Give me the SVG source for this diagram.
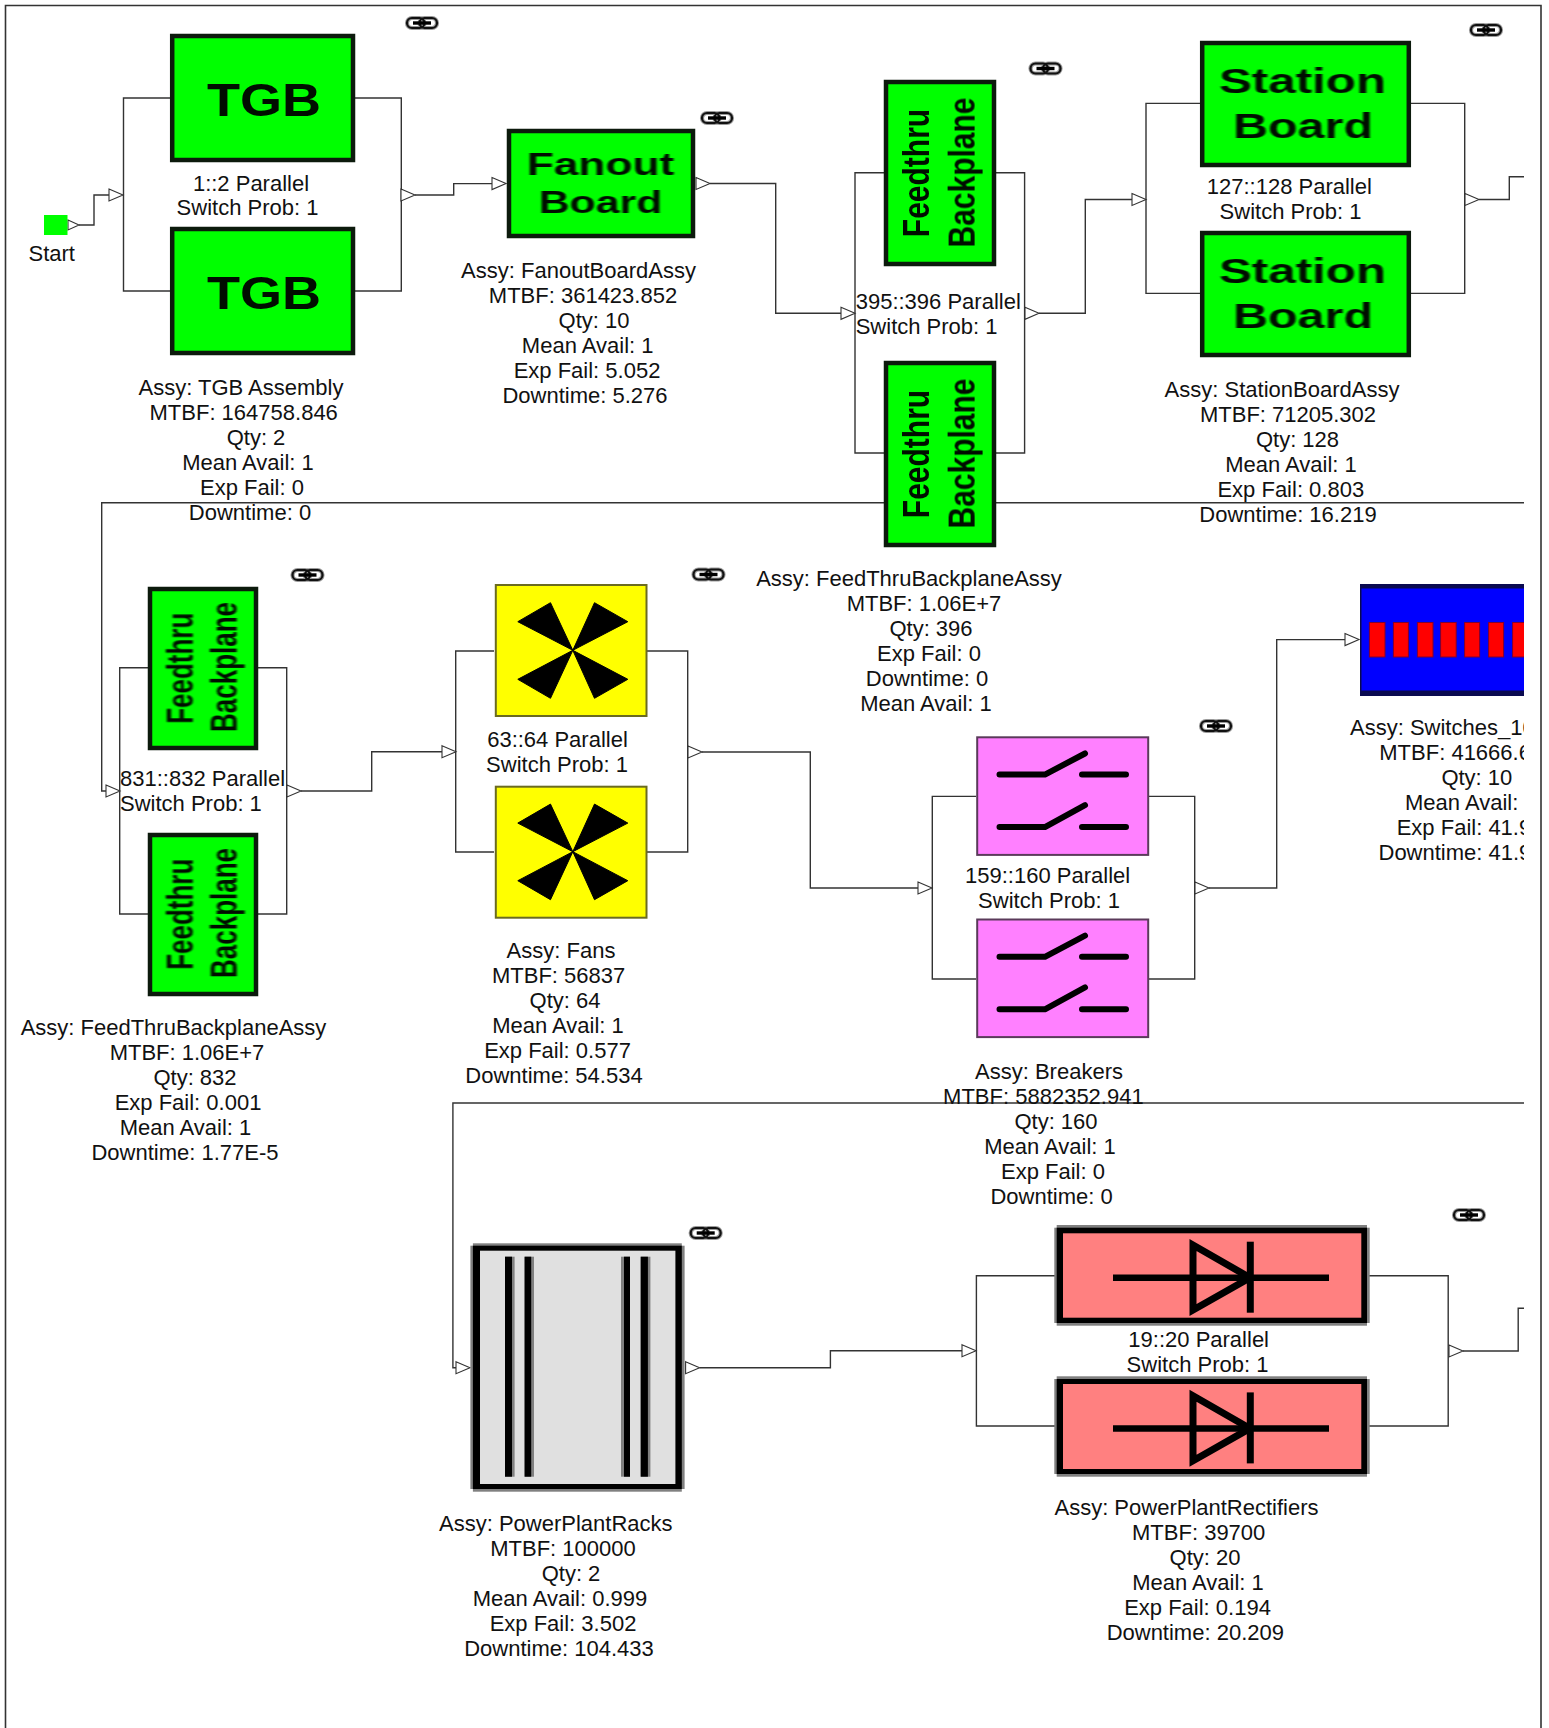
<svg xmlns="http://www.w3.org/2000/svg" width="1549" height="1728" viewBox="0 0 1549 1728">
<style>
text{font-family:"Liberation Sans",Arial,sans-serif;font-size:22px;fill:#111}
.l{text-anchor:middle}
.icon{font-weight:bold;text-anchor:middle;fill:#061006}
.wire{fill:none;stroke:#333;stroke-width:1.4;marker-end:url(#in)}
.wire2{fill:none;stroke:#333;stroke-width:1.4}
.out{marker-start:url(#outm)}
.green{fill:#00ff00;stroke:#0c1a0c;stroke-width:4.5}
.soft{filter:url(#soft)}
.fan{fill:#ffff00;stroke:#6b6b20;stroke-width:2}
.brk{fill:#ff80ff;stroke:#5a3a5a;stroke-width:2}
.sw{fill:none;stroke:#000;stroke-width:6;stroke-linecap:round;stroke-linejoin:round}
.grey{fill:#808080}
.blk{fill:#000}
.dio{fill:none;stroke:#000;stroke-width:7}
</style>
<defs>
<filter id="soft" x="-5%" y="-5%" width="110%" height="110%"><feGaussianBlur stdDeviation="0.6"/></filter>
<marker id="in" markerUnits="userSpaceOnUse" markerWidth="18" markerHeight="16" refX="1" refY="8" orient="auto"><path d="M1 2L15 8L1 14Z" fill="#fff" stroke="#333" stroke-width="1.1"/></marker>
<marker id="outm" markerUnits="userSpaceOnUse" markerWidth="18" markerHeight="16" refX="15" refY="8" orient="auto"><path d="M1 2L15 8L1 14Z" fill="#fff" stroke="#333" stroke-width="1.1"/></marker>
<marker id="outs" markerUnits="userSpaceOnUse" markerWidth="14" markerHeight="14" refX="12" refY="7" orient="auto"><path d="M1 2L12 7L1 12Z" fill="#fff" stroke="#333" stroke-width="1.1"/></marker>
<clipPath id="page"><rect x="0" y="0" width="1524" height="1728"/></clipPath>
<g id="link">
<rect x="-15" y="-5" width="17.5" height="10" rx="5" fill="none" stroke="#9a9a9a" stroke-width="4.2"/>
<rect x="-2.5" y="-5" width="17.5" height="10" rx="5" fill="none" stroke="#9a9a9a" stroke-width="4.2"/>
<rect x="-15" y="-5" width="17.5" height="10" rx="5" fill="none" stroke="#111" stroke-width="2.2"/>
<rect x="-2.5" y="-5" width="17.5" height="10" rx="5" fill="none" stroke="#111" stroke-width="2.2"/>
<path d="M-9 0H9" stroke="#000" stroke-width="3.4"/>
</g>
<g id="fanimg">
<path d="M0 0L-55 -28.6L-22.3 -47.6ZM0 0L21.7 -47.6L55 -28.6ZM0 0L55 29L21.7 48ZM0 0L-22.3 48L-55 29Z" fill="#000" stroke="#000" stroke-width="1" stroke-linejoin="round"/>
</g>
<g id="swimg">
<path class="sw" d="M999.5 774.6H1044.9L1085 753.5M1082 774.6H1126M999.5 827.1H1044.9L1085 805.2M1082 827.1H1126"/>
</g>
<g id="dioimg">
<path d="M1113 1277.7H1329" stroke="#000" stroke-width="6.5" fill="none"/>
<path class="dio" d="M1193 1245L1250 1277.7L1193 1310Z"/>
<path d="M1250.3 1241.7V1312.7" stroke="#000" stroke-width="7" fill="none"/>
</g>
</defs>
<rect width="1549" height="1728" fill="#fff"/>

<g id="frame"><path d="M5.5 1728V5.5H1541V1728" fill="none" stroke="#333" stroke-width="1.6"/></g>

<g id="connectors">
<path class="wire" style="marker-start:url(#outs)" d="M79 225H94V195H109"/>
<path class="wire2" d="M170 98H123.5V291H170M355 98H401.3V291H355"/>
<path class="wire out" d="M415 195H453.7V183.6H492"/>
<path class="wire out" d="M710 183.5H775.7V313.3H841"/>
<path class="wire2" d="M884 172.7H855V453H884M996 172.7H1024.6V453H996"/>
<path class="wire out" d="M1039 313.3H1085.3V199.5H1132"/>
<path class="wire2" d="M1200 103.4H1146V293.4H1200M1411 103.4H1464.7V293.4H1411"/>
<path class="wire2 out" d="M1479 199.5H1509.3V176.8H1524"/>
<path class="wire" d="M1524 502.7H101.7V791H106"/>
<path class="wire2" d="M148 667.7H119.7V914H148M258 667.7H286.7V914H258"/>
<path class="wire out" d="M301 791H371.7V751.7H442"/>
<path class="wire2" d="M494 651H455.7V852H494M647 651H687.7V852H647"/>
<path class="wire out" d="M702 752H810.3V888H918"/>
<path class="wire2" d="M976 796.4H932.3V979H976M1149 796.4H1194.7V979H1149"/>
<path class="wire out" d="M1209 888H1276.7V639.6H1345"/>
<path class="wire" d="M1524 1103H452.9V1367.7H456"/>
<path class="wire out" d="M699.6 1367.7H830.4V1350.7H962"/>
<path class="wire2" d="M1055 1275.7H976.4V1426H1055M1368 1275.7H1448.2V1426H1368"/>
<path class="wire2 out" d="M1463 1351H1518.2V1308.3H1524"/>
</g>

<g id="start"><rect x="44" y="215" width="23.5" height="20" fill="#00ff00"/><text x="28.5" y="261">Start</text></g>

<g id="tgb-1"><rect class="green" x="172.2" y="36" width="180.8" height="124"/><text class="icon soft" style="font-size:47px" transform="translate(264 116) scale(1.15 1)">TGB</text></g>
<g id="tgb-2"><rect class="green" x="172.2" y="229" width="180.8" height="124"/><text class="icon soft" style="font-size:47px" transform="translate(264 309.3) scale(1.15 1)">TGB</text></g>
<g id="tgb-labels">
<text class="l" x="251" y="190.5">1::2 Parallel</text><text class="l" x="247.5" y="215">Switch Prob: 1</text>
<text class="l" x="241" y="395">Assy: TGB Assembly</text><text class="l" x="243.7" y="420">MTBF: 164758.846</text><text class="l" x="256" y="445">Qty: 2</text><text class="l" x="248" y="470">Mean Avail: 1</text><text class="l" x="252" y="495">Exp Fail: 0</text><text class="l" x="250" y="520">Downtime: 0</text>
<use href="#link" x="422" y="23"/>
</g>

<g id="fanout"><rect class="green" x="509" y="131" width="184" height="105"/>
<text class="icon soft" style="font-size:31px" transform="translate(600.5 174.5) scale(1.43 1)">Fanout</text><text class="icon soft" style="font-size:31px" transform="translate(600.5 213) scale(1.38 1)">Board</text>
<text class="l" x="578.5" y="277.5">Assy: FanoutBoardAssy</text><text class="l" x="583" y="302.5">MTBF: 361423.852</text><text class="l" x="594" y="327.5">Qty: 10</text><text class="l" x="587.7" y="352.5">Mean Avail: 1</text><text class="l" x="587" y="377.5">Exp Fail: 5.052</text><text class="l" x="585" y="402.5">Downtime: 5.276</text>
<use href="#link" x="717" y="118"/>
</g>

<g id="fb-a1"><rect class="green" x="886" y="82" width="108" height="182"/>
<text class="icon soft" style="font-size:30px" transform="translate(929 173) rotate(-90) scale(1 1.22)">Feedthru</text><text class="icon soft" style="font-size:30px" transform="translate(974.6 172.5) rotate(-90) scale(1 1.22)">Backplane</text></g>
<g id="fb-a2"><rect class="green" x="886" y="363" width="108" height="182"/>
<text class="icon soft" style="font-size:30px" transform="translate(929 454) rotate(-90) scale(1 1.22)">Feedthru</text><text class="icon soft" style="font-size:30px" transform="translate(974.6 453.5) rotate(-90) scale(1 1.22)">Backplane</text></g>
<g id="fb-a-labels">
<text x="855.7" y="309">395::396 Parallel</text><text x="855.7" y="334">Switch Prob: 1</text>
<text class="l" x="909" y="586">Assy: FeedThruBackplaneAssy</text><text class="l" x="924" y="611">MTBF: 1.06E+7</text><text class="l" x="931" y="636">Qty: 396</text><text class="l" x="929" y="661">Exp Fail: 0</text><text class="l" x="927" y="686">Downtime: 0</text><text class="l" x="926" y="711">Mean Avail: 1</text>
<use href="#link" x="1045.5" y="68.5"/>
</g>

<g id="sb-1"><rect class="green" x="1202.2" y="43" width="206.6" height="122"/>
<text class="icon soft" style="font-size:35px" transform="translate(1302.5 93) scale(1.41 1)">Station</text><text class="icon soft" style="font-size:35px" transform="translate(1303 138) scale(1.385 1)">Board</text></g>
<g id="sb-2"><rect class="green" x="1202.2" y="233" width="206.6" height="122"/>
<text class="icon soft" style="font-size:35px" transform="translate(1302.5 282.5) scale(1.41 1)">Station</text><text class="icon soft" style="font-size:35px" transform="translate(1303 328) scale(1.385 1)">Board</text></g>
<g id="sb-labels">
<text class="l" x="1289.3" y="194">127::128 Parallel</text><text class="l" x="1290.5" y="219">Switch Prob: 1</text>
<text class="l" x="1282" y="397">Assy: StationBoardAssy</text><text class="l" x="1288" y="422">MTBF: 71205.302</text><text class="l" x="1297.5" y="447">Qty: 128</text><text class="l" x="1291" y="472">Mean Avail: 1</text><text class="l" x="1290.8" y="497">Exp Fail: 0.803</text><text class="l" x="1288" y="522">Downtime: 16.219</text>
<use href="#link" x="1486" y="30"/>
</g>

<g id="fb-b1"><rect class="green" x="150" y="589" width="106" height="159"/>
<text class="icon soft" style="font-size:26px" transform="translate(192.8 668.3) rotate(-90) scale(1 1.4)">Feedthru</text><text class="icon soft" style="font-size:26px" transform="translate(236.7 667) rotate(-90) scale(1 1.4)">Backplane</text></g>
<g id="fb-b2"><rect class="green" x="150" y="835" width="106" height="159"/>
<text class="icon soft" style="font-size:26px" transform="translate(192.8 914.3) rotate(-90) scale(1 1.4)">Feedthru</text><text class="icon soft" style="font-size:26px" transform="translate(236.7 913) rotate(-90) scale(1 1.4)">Backplane</text></g>
<g id="fb-b-labels">
<text x="120" y="786">831::832 Parallel</text><text x="120" y="811">Switch Prob: 1</text>
<text class="l" x="173.5" y="1035">Assy: FeedThruBackplaneAssy</text><text class="l" x="187" y="1060">MTBF: 1.06E+7</text><text class="l" x="195" y="1085">Qty: 832</text><text class="l" x="188" y="1110">Exp Fail: 0.001</text><text class="l" x="185.5" y="1135">Mean Avail: 1</text><text class="l" x="185" y="1160">Downtime: 1.77E-5</text>
<use href="#link" x="307.5" y="575"/>
</g>

<g id="fan-1"><rect class="fan" x="495.8" y="585" width="150.7" height="131"/><use href="#fanimg" x="572.8" y="650.3"/></g>
<g id="fan-2"><rect class="fan" x="495.8" y="786.7" width="150.7" height="131"/><use href="#fanimg" x="572.8" y="851.7"/></g>
<g id="fan-labels">
<text class="l" x="557.5" y="747.3">63::64 Parallel</text><text class="l" x="557" y="772">Switch Prob: 1</text>
<text class="l" x="561" y="958">Assy: Fans</text><text class="l" x="558.6" y="983">MTBF: 56837</text><text class="l" x="565" y="1008">Qty: 64</text><text class="l" x="558" y="1033">Mean Avail: 1</text><text class="l" x="557.5" y="1058">Exp Fail: 0.577</text><text class="l" x="554" y="1083">Downtime: 54.534</text>
<use href="#link" x="708.5" y="574.5"/>
</g>

<g id="breaker-1"><rect class="brk" x="977.2" y="737.3" width="171" height="117.6"/><use href="#swimg"/></g>
<g id="breaker-2"><rect class="brk" x="977.2" y="919.5" width="171" height="117.6"/><use href="#swimg" y="182.2"/></g>
<g id="breaker-labels">
<text class="l" x="1047.6" y="883.2">159::160 Parallel</text><text class="l" x="1049" y="908">Switch Prob: 1</text>
<text class="l" x="1049" y="1079">Assy: Breakers</text><text class="l" x="1043.4" y="1104">MTBF: 5882352.941</text><text class="l" x="1056" y="1129">Qty: 160</text><text class="l" x="1050" y="1154">Mean Avail: 1</text><text class="l" x="1053" y="1179">Exp Fail: 0</text><text class="l" x="1051.6" y="1204">Downtime: 0</text>
<use href="#link" x="1216" y="726"/>
</g>

<g id="switches" clip-path="url(#page)">
<rect x="1360" y="584" width="170" height="112" fill="#0a0a50"/>
<rect x="1361.5" y="588.5" width="170" height="102" fill="#0000ff"/>
<g fill="#ff0000" stroke="#800030" stroke-width="1">
<rect x="1369.4" y="622.5" width="15.6" height="34.5"/><rect x="1393.4" y="622.5" width="15" height="34.5"/><rect x="1417.4" y="622.5" width="15.6" height="34.5"/><rect x="1440.6" y="622.5" width="15.6" height="34.5"/><rect x="1464.6" y="622.5" width="15" height="34.5"/><rect x="1488.6" y="622.5" width="15" height="34.5"/><rect x="1512.6" y="622.5" width="15" height="34.5"/>
</g>
<text x="1350" y="735">Assy: Switches_10</text><text x="1379.3" y="760">MTBF: 41666.6</text><text x="1441.4" y="785">Qty: 10</text><text x="1405" y="810">Mean Avail:</text><text x="1396.7" y="835">Exp Fail: 41.9</text><text x="1378.5" y="860">Downtime: 41.9</text>
</g>

<g id="rack">
<rect class="grey" x="472.9" y="1243.3" width="208.9" height="248.4"/><rect class="grey" x="470.4" y="1245.7" width="214.2" height="243.3"/>
<rect class="blk" x="472.9" y="1245.7" width="208.9" height="243.3"/>
<rect x="480" y="1250.7" width="195.4" height="233.3" fill="#e0e0e0"/>
<rect class="grey" x="505" y="1256.7" width="9.6" height="220"/><rect class="blk" x="505" y="1256.7" width="7" height="220"/>
<rect class="grey" x="524.6" y="1256.7" width="9.4" height="220"/><rect class="blk" x="524.6" y="1256.7" width="6.6" height="220"/>
<rect class="grey" x="621" y="1256.7" width="9" height="220"/><rect class="blk" x="624" y="1256.7" width="6" height="220"/>
<rect class="grey" x="640.7" y="1256.7" width="9.7" height="220"/><rect class="blk" x="640.7" y="1256.7" width="7.2" height="220"/>
<text class="l" x="555.8" y="1530.5">Assy: PowerPlantRacks</text><text class="l" x="563" y="1555.5">MTBF: 100000</text><text class="l" x="571" y="1580.5">Qty: 2</text><text class="l" x="560" y="1605.5">Mean Avail: 0.999</text><text class="l" x="563" y="1630.5">Exp Fail: 3.502</text><text class="l" x="559" y="1655.5">Downtime: 104.433</text>
<use href="#link" x="705.7" y="1233"/>
</g>

<g id="rect-1">
<rect class="grey" x="1056.7" y="1225" width="310.3" height="100.7"/><rect class="grey" x="1054.3" y="1227.7" width="315.4" height="95.3"/>
<rect class="blk" x="1056.7" y="1227.7" width="310.3" height="95.3"/>
<rect x="1063" y="1233.3" width="298.3" height="84.4" fill="#ff8080"/>
<use href="#dioimg"/>
</g>
<g id="rect-2">
<rect class="grey" x="1056.7" y="1376.3" width="310.3" height="100.4"/><rect class="grey" x="1054.3" y="1379" width="315.4" height="95"/>
<rect class="blk" x="1056.7" y="1379" width="310.3" height="95"/>
<rect x="1063" y="1384" width="298.3" height="85" fill="#ff8080"/>
<use href="#dioimg" y="150.7"/>
</g>
<g id="rect-labels">
<text class="l" x="1198.7" y="1346.7">19::20 Parallel</text><text class="l" x="1197.5" y="1371.7">Switch Prob: 1</text>
<text class="l" x="1186.5" y="1515">Assy: PowerPlantRectifiers</text><text class="l" x="1198.7" y="1540">MTBF: 39700</text><text class="l" x="1205" y="1565">Qty: 20</text><text class="l" x="1198" y="1590">Mean Avail: 1</text><text class="l" x="1197.5" y="1615">Exp Fail: 0.194</text><text class="l" x="1195.3" y="1640">Downtime: 20.209</text>
<use href="#link" x="1469" y="1215"/>
</g>
</svg>
